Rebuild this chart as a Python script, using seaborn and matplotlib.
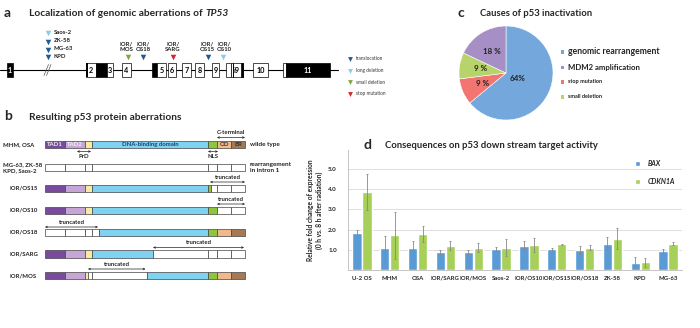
import numpy as np
import pandas as pd
import matplotlib
matplotlib.use("Agg")
import matplotlib.pyplot as plt
import seaborn as sns
from matplotlib.patches import Rectangle

# ---- panel a: genomic aberrations of TP53
intron1_lines = ["Saos-2", "ZK-58", "MG-63", "KPD"]
intron1_types = ["long deletion", "translocation", "translocation", "translocation"]
exon_lines = ["IOR/\nMOS", "IOR/\nOS18", "IOR/\nSARG", "IOR/\nOS15", "IOR/\nOS10"]
exon_types = ["small deletion", "translocation", "stop mutation", "translocation", "long deletion"]
aberration_kinds = ["translocation", "long deletion", "small deletion", "stop mutation"]

# ---- panel b: protein aberrations
domain_names = ["TAD1", "TAD2", "", "DNA-binding domain", "", "OD", "BR"]
protein_rows = ["MHM, OSA", "MG-63, ZK-58\nKPD, Saos-2", "IOR/OS15", "IOR/OS10",
                "IOR/OS18", "IOR/SARG", "IOR/MOS"]
row_notes = ["wilde type", "rearrangement\nin intron 1", "", "", "", "", ""]

# ---- panel c: causes of p53 inactivation
causes = ["genomic rearrangement", "stop mutation", "small deletion", "MDM2 amplification"]
cause_pct = [64, 9, 9, 18]
cause_text = ["64%", "9 %", "9 %", "18 %"]
legend_order = ["genomic rearrangement", "MDM2 amplification", "stop mutation", "small deletion"]

# ---- panel d: target gene expression
cell_lines = ["U-2 OS", "MHM", "OSA", "IOR/SARG", "IOR/MOS", "Saos-2",
              "IOR/OS10", "IOR/OS15", "IOR/OS18", "ZK-58", "KPD", "MG-63"]
bax = [1.85, 1.07, 1.10, 0.87, 0.90, 1.03, 1.20, 1.03, 1.00, 1.30, 0.35, 0.93]
bax_lo = [1.75, 0.45, 0.75, 0.77, 0.80, 0.93, 0.98, 0.98, 0.80, 0.97, 0.10, 0.82]
bax_hi = [1.97, 1.67, 1.43, 0.97, 1.00, 1.13, 1.42, 1.08, 1.20, 1.65, 0.62, 1.05]
cdkn1a = [3.87, 1.73, 1.80, 1.20, 1.10, 1.10, 1.23, 1.27, 1.10, 1.55, 0.38, 1.30]
cdkn1a_lo = [2.97, 0.53, 1.40, 0.97, 0.90, 0.70, 0.90, 1.23, 0.98, 1.02, 0.15, 1.22]
cdkn1a_hi = [4.77, 2.90, 2.17, 1.45, 1.32, 1.53, 1.57, 1.30, 1.22, 2.08, 0.60, 1.38]

kind_colors = {"translocation": "#1d5c96", "long deletion": "#86cdea",
               "small deletion": "#7fa83c", "stop mutation": "#d9232b"}
dom_colors = ["#7a4a9e", "#c6a6d6", "#f9eaa2", "#80d2f1", "#8cc63f", "#f1b98b", "#a37a55"]
cause_colors = {"genomic rearrangement": "#74a8dc", "stop mutation": "#f27572",
                "small deletion": "#b7d36b", "MDM2 amplification": "#a58fc4"}
gene_colors = {"BAX": "#5a9bd6", "CDKN1A": "#a6d05a"}

sns.set_style("white")
plt.rcParams["font.family"] = ["Lato", "DejaVu Sans"]

fig = plt.figure(figsize=(7, 3.28), dpi=100)
ax0 = fig.add_axes([0, 0, 1, 1])
ax0.set_xlim(0, 700)
ax0.set_ylim(328, 0)
ax0.axis("off")

def panel_title(x, y, letter, text, size=6.8, dx=22):
    ax0.text(x, y, letter, fontsize=10, fontweight="bold", va="center", ha="left")
    return ax0.text(x + dx, y + 1, text, fontsize=size, fontweight="bold",
                    va="center", ha="left")

# ================= panel a =================
t = panel_title(4, 13, "a", "Localization of genomic aberrations of ", size=7.3, dx=25)
ax0.annotate("TP53", xy=(1, 0.5), xycoords=t, va="center", ha="left",
             fontsize=7.3, fontweight="bold", fontstyle="italic")

gy = 70
ax0.plot([0, 338], [gy, gy], color="k", lw=0.8, zorder=1)
for dx in (0, 2.5):
    ax0.plot([44 + dx, 48.5 + dx], [75.5, 64.5], color="#555", lw=0.5, zorder=2)

# exon layout: x0, x1, black fill?
exon_boxes = [(7, 13, True), (86, 96, False), (96, 107, True), (107, 113, False),
              (122, 131, False), (152, 157, True), (157, 166, False), (168, 176, False),
              (182, 191, False), (195, 204, False), (212, 219, False), (226, 231, False),
              (231, 243, False), (241, 243, True), (253, 268, False), (283, 286, False),
              (286, 330, True)]
for x0, x1, black in exon_boxes:
    ax0.add_patch(Rectangle((x0, 63), x1 - x0, 14, facecolor="k" if black else "white",
                            edgecolor="k", lw=0.5, zorder=3))
ax0.add_patch(Rectangle((86, 63), 2, 14, facecolor="k", lw=0, zorder=4))
ax0.plot([232.5, 232.5], [63, 77], color="k", lw=0.7, zorder=4)
exon_label_x = [10, 91, 110, 126.5, 161.5, 172, 186.5, 199.5, 215.5, 236.5, 260.5, 308]
for x, name in zip(exon_label_x, ["1", "2", "3", "4", "5", "6", "7", "8", "9", "i9", "10", "11"]):
    col = "white" if name in ("1", "11") else "k"
    ax0.text(x, 70.5, name, fontsize=5.2, fontweight="bold", ha="center", va="center",
             color=col, zorder=5)

for i, (name, kind) in enumerate(zip(intron1_lines, intron1_types)):
    yy = [33, 41.5, 49.5, 57][i]
    ax0.scatter(48, yy, marker="v", s=16, color=kind_colors[kind], lw=0, zorder=5)
    ax0.text(54, yy - 0.5, name, fontsize=4.3, fontweight="bold", va="center", color="#222")

for x, name, kind in zip([126, 143, 173, 207, 224], exon_lines, exon_types):
    ax0.text(x, 46.5, name, fontsize=4.3, fontweight="bold", ha="center", va="center",
             linespacing=1.25, color="#222")
for x, kind in zip([128, 143, 173, 208, 223], exon_types):
    ax0.scatter(x, 57, marker="v", s=16, color=kind_colors[kind], lw=0, zorder=5)

for yy, kind in zip([59, 70.5, 82, 93.5], aberration_kinds):
    ax0.scatter(350, yy, marker="v", s=12, color=kind_colors[kind], lw=0, zorder=5)
    ax0.text(356, yy, kind, fontsize=3.4, va="center", color="#333")

# ================= panel b =================
panel_title(4, 116, "b", "Resulting p53 protein aberrations", size=7.3, dx=25)

DOM_X = [45, 65, 85, 92, 208, 217, 231, 245]
row_y = [144.5, 167.5, 188.5, 210.5, 232.5, 254, 275.5]
full = [(DOM_X[i], DOM_X[i + 1], i) for i in range(7)]
row_segments = [
    full,
    [(a, b, None) for a, b, _ in full],
    [(45, 65, 0), (65, 85, 1), (85, 92, 2), (92, 208, 3), (208, 210.5, 4),
     (210.5, 217, None), (217, 231, None), (231, 245, None)],
    [(45, 65, 0), (65, 85, 1), (85, 92, 2), (92, 208, 3), (208, 217, 4),
     (217, 231, None), (231, 245, None)],
    [(45, 65, None), (65, 85, None), (85, 92, None), (92, 99, None), (99, 208, 3),
     (208, 217, 4), (217, 231, 5), (231, 245, 6)],
    [(45, 65, 0), (65, 85, 1), (85, 92, 2), (92, 153, 3), (153, 208, None),
     (208, 217, None), (217, 231, None), (231, 245, None)],
    [(45, 65, 0), (65, 85, 1), (85, 88, 2), (88, 92, None), (92, 146.5, None),
     (146.5, 208, 3), (208, 217, 4), (217, 231, 5), (231, 245, 6)],
]
for yc, segs, label, note in zip(row_y, row_segments, protein_rows, row_notes):
    for x0, x1, d in segs:
        ax0.add_patch(Rectangle((x0, yc - 3.7), x1 - x0, 7.4,
                                facecolor="white" if d is None else dom_colors[d],
                                edgecolor="#444", lw=0.5, zorder=3))
    lx = 3 if "," in label else 9
    ax0.text(lx, yc, label, fontsize=4.3, fontweight="bold", va="center", color="#222",
             linespacing=1.3)
    if note:
        ax0.text(250, yc, note, fontsize=4.6, fontweight="bold", va="center",
                 color="#222", linespacing=1.2)

dom_text_col = ["#eee", "#f4f4f4", "", "#1d3f77", "", "#333", "#333"]
for i, name in enumerate(domain_names):
    if name:
        ax0.text((DOM_X[i] + DOM_X[i + 1]) / 2, row_y[0], name, fontsize=4.3,
                 fontweight="bold", ha="center", va="center", color=dom_text_col[i], zorder=5)

def span(x0, x1, y, text, ty):
    ax0.annotate("", xy=(x1, y), xytext=(x0, y),
                 arrowprops=dict(arrowstyle="<->", lw=0.5, color="#222",
                                 mutation_scale=3, shrinkA=0, shrinkB=0))
    ax0.text((x0 + x1) / 2, ty, text, fontsize=4.3, fontweight="bold",
             ha="center", va="center", color="#222")

span(217, 245, 137.5, "C-terminal", 133)
span(77, 91, 151.5, "PrD", 156)
span(208, 218, 151.5, "NLS", 156.5)
span(210, 245, 182, "truncated", 177.5)
span(217, 245, 204, "truncated", 199.5)
span(45, 98, 227, "truncated", 222)
span(153, 244, 247.5, "truncated", 243)
span(88, 145.5, 269, "truncated", 264.5)

# ================= panel c =================
panel_title(458, 13, "c", "Causes of p53 inactivation")
axc = fig.add_axes([459 / 700, (328 - 120) / 328, 94 / 700, 94 / 328])
wedges, _, autotexts = axc.pie(cause_pct, colors=[cause_colors[c] for c in causes],
                               startangle=90, counterclock=False, autopct="%d",
                               pctdistance=0.55,
                               wedgeprops=dict(edgecolor="white", linewidth=0.4))
for t, s in zip(autotexts, cause_text):
    t.set_text(s)
    t.set_fontsize(5.8)
    t.set_fontweight("bold")
    t.set_color("#222")
autotexts[0].set_position(np.array(autotexts[0].get_position()) * 0.5)
axc.set_xlim(-1, 1)
axc.set_ylim(-1, 1)

for name, yy, fs in zip(legend_order, [52, 67.5, 82, 97], [6.2, 5.6, 4.0, 4.0]):
    ax0.add_patch(Rectangle((561, yy - 1.7), 3.4, 3.4, facecolor=cause_colors[name], lw=0))
    ax0.text(568, yy, name, fontsize=fs, fontweight="bold", va="center", color="#222")

# ================= panel d =================
panel_title(363, 145, "d", "Consequences on p53 down stream target activity")
axd = fig.add_axes([348 / 700, (328 - 270) / 328, 334 / 700, 120 / 328])
df = pd.DataFrame({"line": cell_lines * 2,
                   "gene": ["BAX"] * len(bax) + ["CDKN1A"] * len(cdkn1a),
                   "value": bax + cdkn1a})
sns.barplot(data=df, x="line", y="value", hue="gene", palette=gene_colors,
            width=0.72, gap=0.06, errorbar=None, saturation=1, ax=axd)
for cont, vals, lo, hi in zip(axd.containers, [bax, cdkn1a], [bax_lo, cdkn1a_lo],
                              [bax_hi, cdkn1a_hi]):
    xs = [b.get_x() + b.get_width() / 2 for b in cont]
    v = np.array(vals)
    axd.errorbar(xs, v, yerr=[v - np.array(lo), np.array(hi) - v], fmt="none",
                 ecolor="#888", elinewidth=0.6, capsize=1.0, capthick=0.6)
axd.set_ylim(0, 5.95)
axd.set_yticks([1, 2, 3, 4, 5])
axd.set_yticklabels(["1.0", "2.0", "3.0", "4.0", "5.0"], fontsize=4.5, fontweight="bold")
axd.yaxis.grid(True, color="#d9d9d9", lw=0.6)
axd.set_axisbelow(True)
axd.tick_params(axis="y", length=0, pad=8)
axd.tick_params(axis="x", length=0, pad=4)
for lab in axd.get_xticklabels():
    lab.set_fontsize(4.3)
    lab.set_fontweight("bold")
axd.set_xticks(np.arange(len(cell_lines) + 1) - 0.5, minor=True)
axd.tick_params(axis="x", which="minor", length=2, color="#999", width=0.5)
axd.set_xlim(-0.5, len(cell_lines) - 0.5)
axd.set_xlabel("")
axd.set_ylabel("Relative fold change of expression\n(0 h vs. 8 h after radiation)",
               fontsize=4.8, fontweight="bold", labelpad=4, linespacing=1.3)
sns.despine(ax=axd)
for s in ("left", "bottom"):
    axd.spines[s].set_color("#bbb")
    axd.spines[s].set_linewidth(0.6)
axd.legend(frameon=False, loc="upper left", bbox_to_anchor=(0.84, 0.97),
           prop=dict(size=5, weight="bold", style="italic"), handlelength=0.7,
           handleheight=0.7, labelspacing=1.6, handletextpad=1.2)

fig.savefig("out.png", dpi=100)
